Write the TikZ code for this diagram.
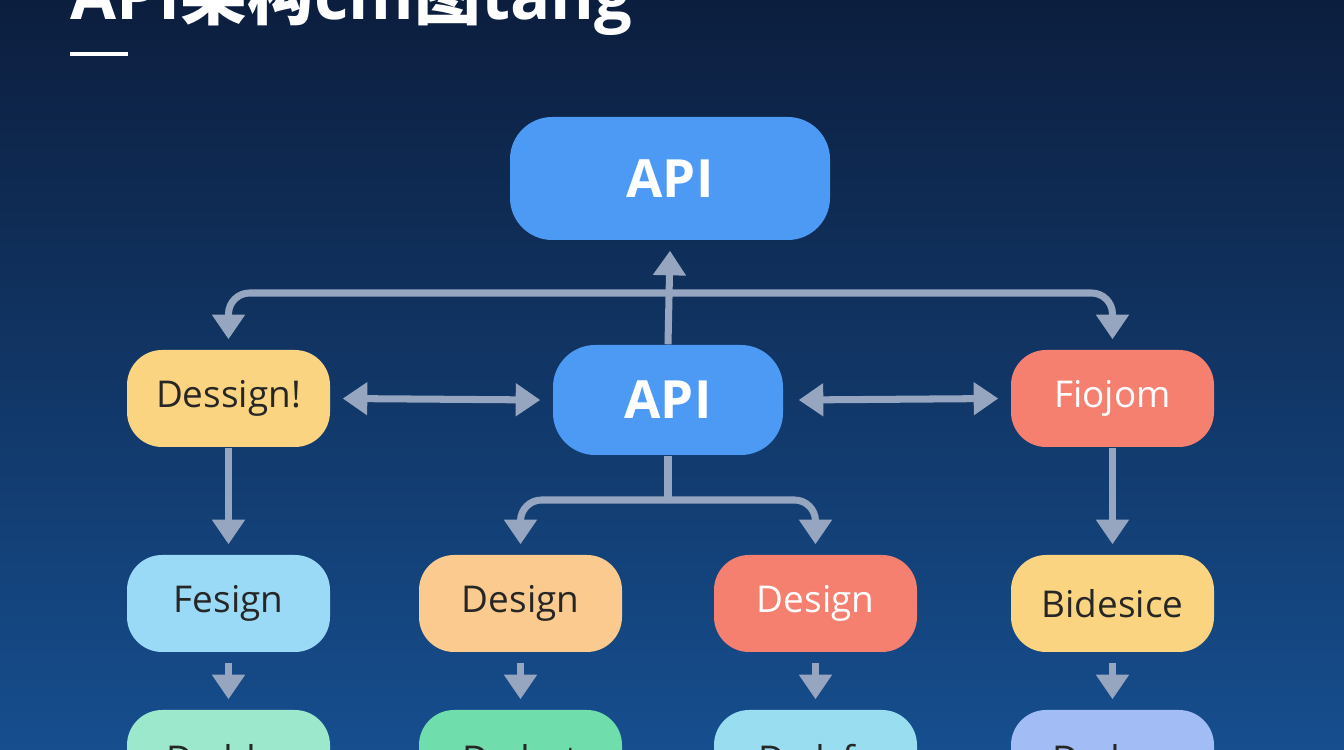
\documentclass[tikz,border=0pt]{standalone}
\usepackage{fontspec}
\setmainfont{Open Sans}
\newfontfamily\cjk{Noto Sans CJK SC}
\usepackage{tikz}
\usetikzlibrary{arrows.meta}
\definecolor{bgtop}{RGB}{12,30,62}
\definecolor{bgbot}{RGB}{22,78,142}
\definecolor{apib}{RGB}{77,154,245}
\definecolor{yel}{RGB}{250,212,128}
\definecolor{sal}{RGB}{245,128,112}
\definecolor{lblu}{RGB}{155,218,246}
\definecolor{ora}{RGB}{250,202,142}
\definecolor{mint}{RGB}{155,232,205}
\definecolor{gree}{RGB}{112,222,172}
\definecolor{cyan}{RGB}{152,222,240}
\definecolor{peri}{RGB}{162,188,246}
\definecolor{arr}{RGB}{150,166,192}

\tikzset{
  box/.style={rounded corners=10pt,minimum width=2.03cm,minimum height=0.97cm,font=\fontsize{10.5}{12}\selectfont,text=black!85},
  api/.style={rounded corners=12pt,fill=apib,text=white,font=\bfseries\fontsize{15}{17}\selectfont},
  link/.style={draw=arr,line width=2pt,-{Triangle[length=7pt,width=9pt]},rounded corners=6pt},
}

\begin{document}
\begin{tikzpicture}
    \shade[top color=bgtop,bottom color=bgbot] (0,0) rectangle (13.44,7.5);
    \useasboundingbox (0,0) rectangle (13.44,7.5);
    \clip (0,0) rectangle (13.44,7.5);

    % title
    \node[anchor=base west,text=white,font=\bfseries\fontsize{19}{19}\selectfont,inner sep=0pt] (title) at (0.7,7.3) {API{\cjk\bfseries 架构}cm{\cjk\bfseries 图}tang};
    \fill[white] (0.7,6.98) rectangle (1.28,6.94);

    % nodes
    \node[api,minimum width=3.2cm,minimum height=1.23cm] (top) at (6.70,5.715) {API};
    \node[api,minimum width=2.3cm,minimum height=1.1cm] (mid) at (6.68,3.5) {API};
    \node[box,fill=yel] (left) at (2.285,3.515) {Dessign!};
    \node[box,fill=sal,text=white] (right) at (11.125,3.515) {Fiojom};

    \node[box,fill=lblu] (fa) at (2.285,1.465) {Fesign};
    \node[box,fill=ora] (fb) at (5.205,1.465) {Design};
    \node[box,fill=sal,text=white] (fc) at (8.155,1.465) {Design};
    \node[box,fill=yel] (fd) at (11.125,1.465) {Bidesice};

    \node[box,fill=mint] (ga) at (2.285,-0.085) {Dsddss};
    \node[box,fill=gree] (gb) at (5.205,-0.085) {Dsdsst};
    \node[box,fill=cyan] (gc) at (8.155,-0.085) {Dsdsfs};
    \node[box,fill=peri] (gd) at (11.125,-0.085) {Dsdsss};

    % connectors
    \coordinate (hub) at (6.68,4.57);
    \coordinate (fork) at (6.68,2.5);
    \draw[link] (mid.north) -- ([yshift=-0.1cm]top.south);
    \draw[link] (hub) -| ([yshift=0.1cm]left.north);
    \draw[link] (hub) -| ([yshift=0.1cm]right.north);
    \draw[link,{Triangle[length=7pt,width=9pt]}-{Triangle[length=7pt,width=9pt]}] ([xshift=0.12cm]left.east) -- ([xshift=-0.12cm]mid.west);
    \draw[link,{Triangle[length=7pt,width=9pt]}-{Triangle[length=7pt,width=9pt]}] ([xshift=0.15cm]mid.east) -- ([xshift=-0.12cm]right.west);
    \draw[link,-] (mid.south) -- (fork);
    \draw[link] (fork) -| ([yshift=0.1cm]fb.north);
    \draw[link] (fork) -| ([yshift=0.1cm]fc.north);
    \draw[link] (left.south) -- ([yshift=0.1cm]fa.north);
    \draw[link] (right.south) -- ([yshift=0.1cm]fd.north);
    \foreach \a/\b in {fa/ga,fb/gb,fc/gc,fd/gd}
      \draw[link] ([yshift=-0.1cm]\a.south) -- ([yshift=0.1cm]\b.north);
\end{tikzpicture}
\end{document}
